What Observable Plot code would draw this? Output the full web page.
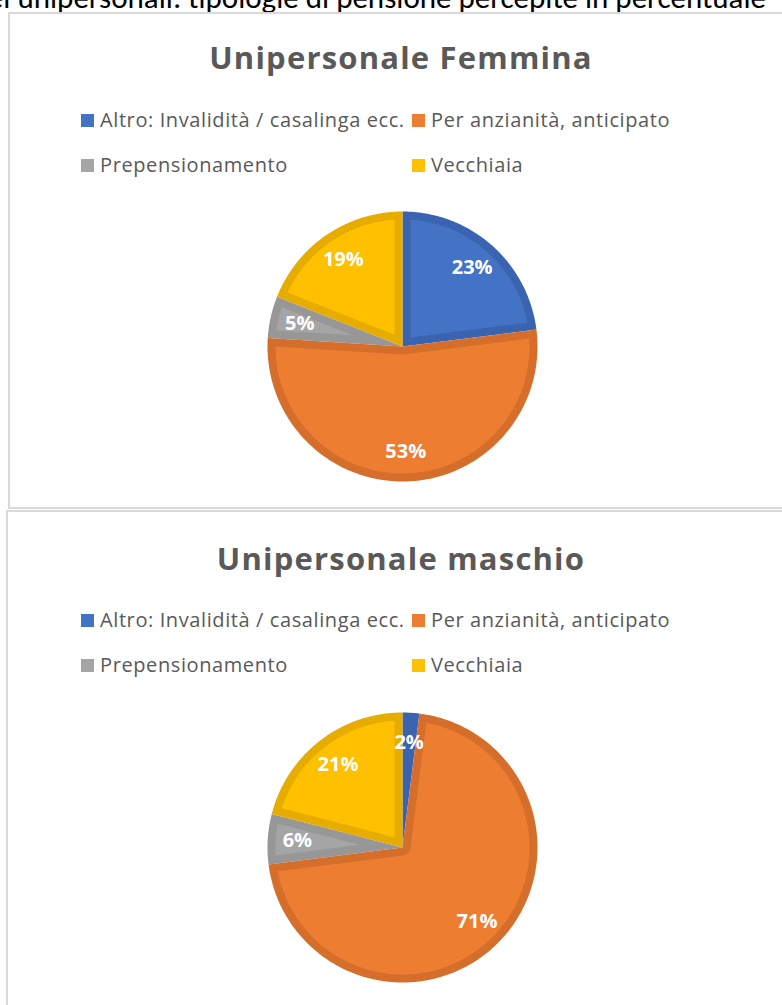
<!DOCTYPE html>
<html>
<head>
<meta charset="utf-8">
<script src="https://cdn.jsdelivr.net/npm/d3@7"></script>
<script src="https://cdn.jsdelivr.net/npm/@observablehq/plot@0.6"></script>
<style>
  html, body { margin: 0; padding: 0; background: #fff; }
  body { width: 782px; height: 1005px; overflow: hidden; position: relative; }
  .abs { position: absolute; }
  .doc-title { right: 16px; top: -18.5px; white-space: nowrap; font-family: Carlito, Lato, "Open Sans", sans-serif; font-size: 31px; line-height: 31px; color: #000; }
  .panel { border: 2px solid #d9d9d9; box-sizing: border-box; }
  .ctitle { width: 782px; left: 10px; text-align: center; font-family: "Open Sans", sans-serif; font-weight: 700; font-size: 31px; letter-spacing: 1.2px; color: #595959; line-height: 36px; }
  .leg-sq { width: 13px; height: 13px; }
  .leg-tx { font-family: "Open Sans", sans-serif; font-size: 20px; letter-spacing: 0.6px; line-height: 24px; color: #595959; white-space: nowrap; }
</style>
</head>
<body>
<div class="abs doc-title">Figura 7: Nuclei unipersonali: tipologie di pensione percepite in percentuale</div>
<script>
const categories = ["Altro: Invalidità / casalinga ecc.", "Per anzianità, anticipato", "Prepensionamento", "Vecchiaia"];
const femmina = [23, 53, 5, 19];
const maschio = [2, 71, 6, 21];
const chartTitles = ["Unipersonale Femmina", "Unipersonale maschio"];
const fillColors = ["#4472C4", "#ED7D31", "#A5A5A5", "#FFC000"];
const edgeColors = ["#3A64B0", "#D56E2A", "#979797", "#E6AC00"];

const R = 135;      // pie radius in px units
const BORDER = 8;   // inner border thickness
const deg = Math.PI / 180;
const pt = (a, r) => ({x: r * Math.sin(a), y: r * Math.cos(a)});

function outerPoly(a0, a1) {
  const pts = [];
  const n = Math.max(2, Math.ceil((a1 - a0) / deg));
  for (let i = 0; i <= n; i++) pts.push(pt(a0 + (a1 - a0) * i / n, R));
  pts.push({x: 0, y: 0});
  pts.push(pts[0]);
  pts.push(pts[1]);
  return pts;
}

function innerPoly(a0, a1) {
  const d = BORDER, Ri = R - d, D = a1 - a0;
  const pts = [];
  if (D < Math.PI) {
    const c = d / Math.sin(D / 2);
    if (c >= Ri - 2) return null;
  }
  const s0 = a0 + Math.asin(d / Ri), s1 = a1 - Math.asin(d / Ri);
  if (s1 <= s0) return null;
  const n = Math.max(2, Math.ceil((s1 - s0) / deg));
  for (let i = 0; i <= n; i++) pts.push(pt(s0 + (s1 - s0) * i / n, Ri));
  if (D < Math.PI) {
    pts.push(pt((a0 + a1) / 2, d / Math.sin(D / 2)));
  } else {
    const f0 = a1 - Math.PI / 2, f1 = a0 + Math.PI / 2;
    const m = Math.max(2, Math.ceil((f0 - f1) / deg));
    for (let i = 0; i <= m; i++) pts.push(pt(f0 - (f0 - f1) * i / m, d));
  }
  pts.push(pts[0]);
  return pts;
}

function addPanel(idx, values, top, left) {
  const off = idx * 500.5;
  const panel = document.createElement("div");
  panel.className = "abs panel";
  panel.style.left = left + "px";
  panel.style.top = top + "px";
  panel.style.width = (800 - left) + "px";
  panel.style.height = idx === 0 ? "497px" : "520px";
  document.body.appendChild(panel);

  const t = document.createElement("div");
  t.className = "abs ctitle";
  t.style.top = (39 + off) + "px";
  t.textContent = chartTitles[idx];
  document.body.appendChild(t);

  categories.forEach((c, i) => {
    const col = i % 2, row = Math.floor(i / 2);
    const sx = col === 0 ? 81 : 412;
    const cy = 120 + row * 45 + off;
    const sq = document.createElement("div");
    sq.className = "abs leg-sq";
    sq.style.left = sx + "px";
    sq.style.top = (cy - 6.5) + "px";
    sq.style.background = fillColors[i];
    document.body.appendChild(sq);
    const tx = document.createElement("div");
    tx.className = "abs leg-tx";
    tx.style.left = (sx + 19) + "px";
    tx.style.top = (cy - 12.5) + "px";
    tx.textContent = c;
    document.body.appendChild(tx);
  });

  const total = d3.sum(values);
  let acc = 0;
  const slices = values.map((v, i) => {
    const a0 = acc / total * 2 * Math.PI;
    acc += v;
    const a1 = acc / total * 2 * Math.PI;
    return {i, v, a0, a1};
  });
  const order = [0, 2, 3, 1];
  const marks = [];
  for (const k of order) {
    const s = slices[k];
    marks.push(Plot.line(outerPoly(s.a0, s.a1), {x: "x", y: "y", fill: edgeColors[k], stroke: "none", curve: "linear"}));
  }
  for (const k of order) {
    const s = slices[k];
    const ip = innerPoly(s.a0, s.a1);
    if (ip) marks.push(Plot.line(ip, {x: "x", y: "y", fill: fillColors[k], stroke: "none", curve: "linear"}));
  }
  const labels = slices.map(s => {
    const p = pt((s.a0 + s.a1) / 2, R * 0.78);
    return {x: p.x, y: p.y, text: s.v + "%"};
  });
  marks.push(Plot.text(labels, {x: "x", y: "y", text: "text", fill: "white", fontWeight: "bold", fontSize: 20, fontFamily: "'Open Sans', sans-serif"}));

  const svg = Plot.plot({
    width: 300, height: 300,
    margin: 0,
    x: {domain: [-150, 150], axis: null},
    y: {domain: [-150, 150], axis: null},
    style: {background: "transparent", overflow: "visible"},
    marks
  });
  const wrap = document.createElement("div");
  wrap.className = "abs";
  wrap.style.left = (402 - 150) + "px";
  wrap.style.top = (346 - 150 + off) + "px";
  wrap.appendChild(svg);
  document.body.appendChild(wrap);
}

addPanel(0, femmina, 12, 8);
addPanel(1, maschio, 510, 6);
</script>
</body>
</html>
